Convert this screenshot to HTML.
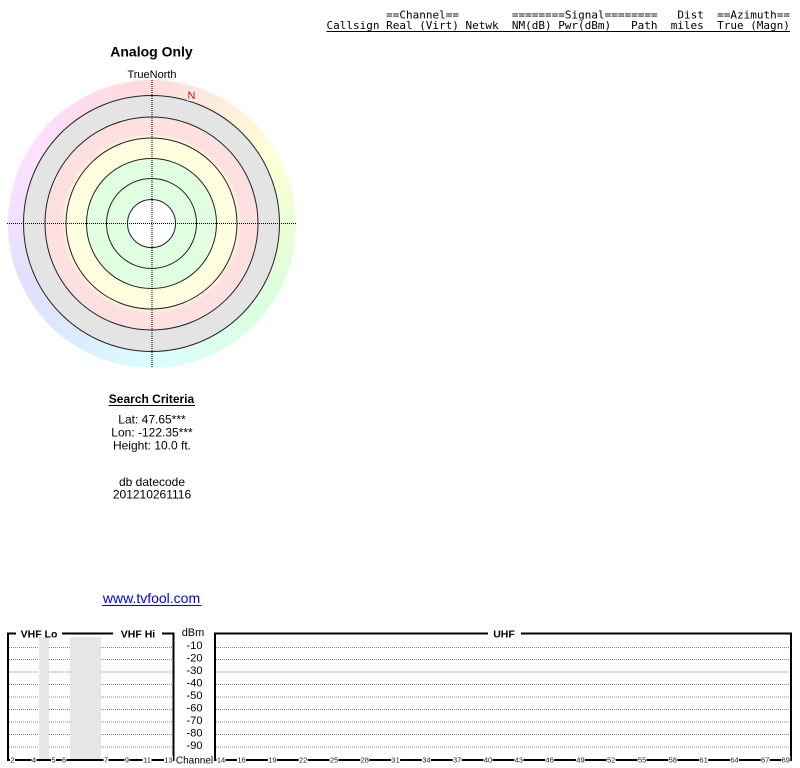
<!DOCTYPE html>
<html><head><meta charset="utf-8"><style>
body{margin:0;width:800px;height:768px;overflow:hidden;background:#fff;position:relative}
#ring{position:absolute;left:7.5px;top:80px;width:288px;height:288px;border-radius:50%;
background:conic-gradient(hsl(0,100%,93%),hsl(30,100%,93%),hsl(60,100%,92%),hsl(90,100%,92%),hsl(120,100%,93%),hsl(150,100%,93%),hsl(180,100%,93%),hsl(210,100%,93%),hsl(240,100%,94%),hsl(270,100%,94%),hsl(300,100%,94%),hsl(330,100%,93%),hsl(360,100%,93%))}
svg{position:absolute;left:0;top:0}
.s{font-family:"Liberation Sans",Arial,sans-serif}
.m{font-family:"DejaVu Sans Mono","Liberation Mono",monospace;font-size:11px}
.t{font-family:"Liberation Sans",Arial,sans-serif;font-size:7.5px;fill:#222}
</style></head><body>
<div id="ring"></div>
<svg width="800" height="768" viewBox="0 0 800 768">
<defs>
<radialGradient id="rg" gradientUnits="userSpaceOnUse" cx="151.5" cy="223.5" r="128">
<stop offset="0" stop-color="#e0ffe0"/>
<stop offset="0.484" stop-color="#e0ffe0"/>
<stop offset="0.53" stop-color="#ffffe0"/>
<stop offset="0.656" stop-color="#ffffe0"/>
<stop offset="0.703" stop-color="#ffe0e0"/>
<stop offset="0.8125" stop-color="#ffe0e0"/>
<stop offset="0.844" stop-color="#e4e4e4"/>
<stop offset="1" stop-color="#e4e4e4"/>
</radialGradient>
</defs>

<!-- header -->
<g class="m" fill="#000">
<text x="386.1" y="18.5">==Channel==</text>
<text x="511.9" y="18.5">========Signal========</text>
<text x="677.4" y="18.5">Dist</text>
<text x="717.1" y="18.5">==Azimuth==</text>
<text x="326.5" y="29">Callsign</text>
<text x="386.1" y="29">Real</text>
<text x="419.2" y="29">(Virt)</text>
<text x="465.5" y="29">Netwk</text>
<text x="511.9" y="29">NM(dB)</text>
<text x="558.2" y="29">Pwr(dBm)</text>
<text x="631.0" y="29">Path</text>
<text x="670.7" y="29">miles</text>
<text x="717.1" y="29">True</text>
<text x="750.2" y="29">(Magn)</text>
</g>
<line x1="326.5" y1="31.5" x2="790" y2="31.5" stroke="#000" stroke-width="1"/>

<!-- radar -->
<text class="s" x="151.5" y="56.5" font-size="14" font-weight="bold" text-anchor="middle">Analog Only</text>
<text class="s" x="152" y="78" font-size="11" text-anchor="middle">TrueNorth</text>
<circle cx="151.5" cy="223.5" r="128" fill="url(#rg)"/>
<circle cx="151.5" cy="223.5" r="24" fill="#fff"/>
<g fill="none" stroke="#222" stroke-width="1">
<circle cx="151.5" cy="223.5" r="128"/>
<circle cx="151.5" cy="223.5" r="106.5"/>
<circle cx="151.5" cy="223.5" r="85.5"/>
<circle cx="151.5" cy="223.5" r="65"/>
<circle cx="151.5" cy="223.5" r="45"/>
<circle cx="151.5" cy="223.5" r="24"/>
</g>
<line x1="7" y1="223.5" x2="297" y2="223.5" stroke="#000" stroke-width="1" stroke-dasharray="1,1"/>
<line x1="152" y1="80" x2="152" y2="368" stroke="#000" stroke-width="1" stroke-dasharray="1,1"/>
<rect x="187" y="90" width="10" height="11" fill="#fff" opacity="0.5"/>
<text class="s" x="191.5" y="99" font-size="11" fill="#e00000" text-anchor="middle">N</text>

<!-- search criteria -->
<text class="s" x="151.5" y="403" font-size="12" font-weight="bold" text-anchor="middle">Search Criteria</text>
<line x1="108.5" y1="405.5" x2="195" y2="405.5" stroke="#000" stroke-width="1"/>
<g class="s" font-size="12" text-anchor="middle" fill="#000">
<text x="152" y="423.5">Lat: 47.65***</text>
<text x="152" y="436.5">Lon: -122.35***</text>
<text x="152" y="449.5">Height: 10.0 ft.</text>
<text x="152" y="486">db datecode</text>
<text x="152" y="498.5">201210261116</text>
</g>
<text class="s" x="151.5" y="603" font-size="14" fill="#0000ee" text-anchor="middle">www.tvfool.com</text>
<line x1="102" y1="605.5" x2="201.5" y2="605.5" stroke="#0000ee" stroke-width="1"/>

<!-- bottom chart: gridlines -->
<g stroke="#888" stroke-width="1" stroke-dasharray="1,1">
<line x1="9" y1="647.5" x2="172" y2="647.5"/><line x1="216" y1="647.5" x2="790" y2="647.5"/>
<line x1="9" y1="659.5" x2="172" y2="659.5"/><line x1="216" y1="659.5" x2="790" y2="659.5"/>
<line x1="9" y1="672" x2="172" y2="672"/><line x1="216" y1="672" x2="790" y2="672"/>
<line x1="9" y1="684.5" x2="172" y2="684.5"/><line x1="216" y1="684.5" x2="790" y2="684.5"/>
<line x1="9" y1="697" x2="172" y2="697"/><line x1="216" y1="697" x2="790" y2="697"/>
<line x1="9" y1="709.5" x2="172" y2="709.5"/><line x1="216" y1="709.5" x2="790" y2="709.5"/>
<line x1="9" y1="722" x2="172" y2="722"/><line x1="216" y1="722" x2="790" y2="722"/>
<line x1="9" y1="734.5" x2="172" y2="734.5"/><line x1="216" y1="734.5" x2="790" y2="734.5"/>
<line x1="9" y1="747" x2="172" y2="747"/><line x1="216" y1="747" x2="790" y2="747"/>
</g>
<!-- gray bands -->
<rect x="39" y="637" width="10" height="123" fill="#e6e6e6"/>
<rect x="70" y="637" width="31" height="123" fill="#e6e6e6"/>

<!-- frames -->
<g stroke="#000" stroke-width="2" fill="none">
<line x1="8" y1="633.5" x2="16" y2="633.5"/>
<line x1="62" y1="633.5" x2="113" y2="633.5"/>
<line x1="162" y1="633.5" x2="174" y2="633.5"/>
<line x1="8" y1="632.5" x2="8" y2="761"/>
<line x1="173.5" y1="632.5" x2="173.5" y2="761"/>
<line x1="8" y1="760" x2="174" y2="760"/>
<line x1="214" y1="633.5" x2="488" y2="633.5"/>
<line x1="521" y1="633.5" x2="792" y2="633.5"/>
<line x1="215" y1="632.5" x2="215" y2="761"/>
<line x1="791" y1="632.5" x2="791" y2="761"/>
<line x1="215" y1="760" x2="791" y2="760"/>
</g>
<g class="s" font-size="10.5" font-weight="bold" text-anchor="middle">
<text x="39" y="637.5">VHF Lo</text>
<text x="138" y="637.5">VHF Hi</text>
<text x="504" y="637.5">UHF</text>
</g>

<!-- dBm labels -->
<g class="s" font-size="11" text-anchor="middle" fill="#000">
<text x="193" y="636">dBm</text>
<text x="194.5" y="649">-10</text>
<text x="194.5" y="661.5">-20</text>
<text x="194.5" y="674">-30</text>
<text x="194.5" y="686.5">-40</text>
<text x="194.5" y="699">-50</text>
<text x="194.5" y="711.5">-60</text>
<text x="194.5" y="724">-70</text>
<text x="194.5" y="736.5">-80</text>
<text x="194.5" y="749">-90</text>
<text x="194.5" y="763.5" font-size="10">Channel</text>
</g>

<!-- channel tick labels -->
<g fill="#fff">
<rect x="10" y="756" width="5" height="8"/>
<rect x="31.5" y="756" width="5" height="8"/>
<rect x="51" y="756" width="5" height="8"/>
<rect x="61.5" y="756" width="5" height="8"/>
<rect x="103.5" y="756" width="5" height="8"/>
<rect x="124.5" y="756" width="5" height="8"/>
<rect x="142.5" y="756" width="9" height="8"/>
<rect x="164" y="756" width="9" height="8"/>
</g>
<g class="t" text-anchor="middle">
<text x="12.5" y="762.5">2</text>
<text x="34" y="762.5">4</text>
<text x="53.5" y="762.5">5</text>
<text x="64" y="762.5">6</text>
<text x="106" y="762.5">7</text>
<text x="127" y="762.5">9</text>
<text x="147" y="762.5">11</text>
<text x="168.5" y="762.5">13</text>
</g>
<g fill="#fff">
<rect x="216.5" y="756" width="9" height="8"/>
<rect x="237" y="756" width="9" height="8"/>
<rect x="267.9" y="756" width="9" height="8"/>
<rect x="298.7" y="756" width="9" height="8"/>
<rect x="329.5" y="756" width="9" height="8"/>
<rect x="360.3" y="756" width="9" height="8"/>
<rect x="391.1" y="756" width="9" height="8"/>
<rect x="421.9" y="756" width="9" height="8"/>
<rect x="452.7" y="756" width="9" height="8"/>
<rect x="483.5" y="756" width="9" height="8"/>
<rect x="514.3" y="756" width="9" height="8"/>
<rect x="545.1" y="756" width="9" height="8"/>
<rect x="575.9" y="756" width="9" height="8"/>
<rect x="606.7" y="756" width="9" height="8"/>
<rect x="637.5" y="756" width="9" height="8"/>
<rect x="668.3" y="756" width="9" height="8"/>
<rect x="699.1" y="756" width="9" height="8"/>
<rect x="729.9" y="756" width="9" height="8"/>
<rect x="760.7" y="756" width="9" height="8"/>
<rect x="781.3" y="756" width="9" height="8"/>
</g>
<g class="t" text-anchor="middle">
<text x="221" y="762.5">14</text>
<text x="241.5" y="762.5">16</text>
<text x="272.4" y="762.5">19</text>
<text x="303.2" y="762.5">22</text>
<text x="334" y="762.5">25</text>
<text x="364.8" y="762.5">28</text>
<text x="395.6" y="762.5">31</text>
<text x="426.4" y="762.5">34</text>
<text x="457.2" y="762.5">37</text>
<text x="488" y="762.5">40</text>
<text x="518.8" y="762.5">43</text>
<text x="549.6" y="762.5">46</text>
<text x="580.4" y="762.5">49</text>
<text x="611.2" y="762.5">52</text>
<text x="642" y="762.5">55</text>
<text x="672.8" y="762.5">58</text>
<text x="703.6" y="762.5">61</text>
<text x="734.4" y="762.5">64</text>
<text x="765.2" y="762.5">67</text>
<text x="785.8" y="762.5">69</text>
</g>
</svg>
</body></html>
